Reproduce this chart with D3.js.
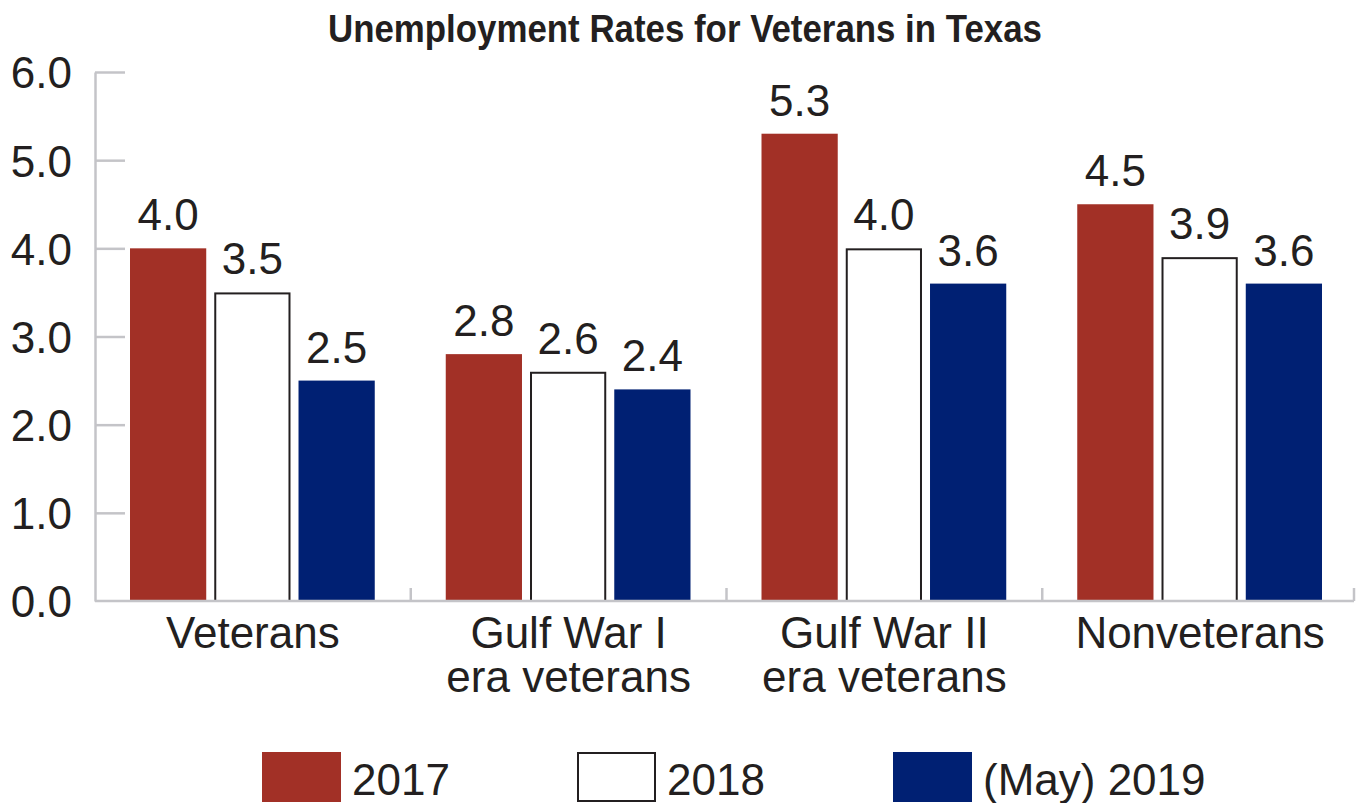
<!DOCTYPE html>
<html>
<head>
<meta charset="utf-8">
<script src="https://cdn.jsdelivr.net/npm/d3@7"></script>
<style>
  body { margin: 0; background: #fff; }
  svg text { font-family: "Liberation Sans", Arial, sans-serif; fill: #231F20; }
</style>
</head>
<body>
<div id="chart"></div>
<script>
const categories = [["Veterans"], ["Gulf War I", "era veterans"], ["Gulf War II", "era veterans"], ["Nonveterans"]];
const seriesNames = ["2017", "2018", "(May) 2019"];
const values2017 = [4.0, 2.8, 5.3, 4.5];
const values2018 = [3.5, 2.6, 4.0, 3.9];
const values2019 = [2.5, 2.4, 3.6, 3.6];
const yTicks = [0, 1, 2, 3, 4, 5, 6];

const colors = { "2017": "#A23026", "2018": "#FFFFFF", "(May) 2019": "#002073" };
const allValues = [values2017, values2018, values2019];

window.onload = () => {
  drawChart();
};

function drawChart() {
  const W = 1361, H = 803;
  const svg = d3.select("#chart").append("svg")
    .attr("width", W)
    .attr("height", H);

  const left = 95, right = 1358, top = 72, bottom = 601;
  const catKeys = categories.map(c => c.join(" "));

  const x0 = d3.scaleBand().domain(catKeys).range([left, right]).padding(0);
  const x1 = d3.scaleBand().domain(seriesNames)
    .range([35, x0.bandwidth() - 36])
    .paddingInner(8 / 84);
  const y = d3.scaleLinear().domain([0, 6]).range([bottom, top]);

  // title
  svg.append("text")
    .attr("x", 685)
    .attr("y", 42)
    .attr("text-anchor", "middle")
    .attr("textLength", 714)
    .attr("lengthAdjust", "spacingAndGlyphs")
    .style("font-family", '"Liberation Sans Narrow", "Liberation Sans", Arial, sans-serif')
    .style("font-weight", "bold")
    .style("font-size", "38px")
    .text("Unemployment Rates for Veterans in Texas");

  // y axis
  const yAxis = svg.append("g")
    .attr("transform", `translate(${left},0)`)
    .call(d3.axisLeft(y).tickValues(yTicks).tickFormat(d3.format(".1f")).tickSize(-30).tickSizeOuter(0).tickPadding(23));
  yAxis.select(".domain").attr("stroke", "#C4C4C8").attr("stroke-width", 2.5);
  yAxis.selectAll(".tick line").attr("stroke", "#C4C4C8").attr("stroke-width", 2.5);
  yAxis.selectAll(".tick text")
    .style("font-family", '"Liberation Sans", Arial, sans-serif')
    .style("font-size", "44px")
    .attr("fill", "#231F20")
    .attr("dy", "0.36em");
  yAxis.selectAll(".tick").filter(d => d === 0).select("line").remove();

  // bars
  const groups = svg.selectAll("g.layer")
    .data(catKeys)
    .join("g")
    .attr("class", "layer")
    .attr("transform", d => `translate(${x0(d)},0)`);

  const barData = (c, ci) => seriesNames.map((s, si) => ({ s: s, v: allValues[si][ci] }));

  groups.selectAll("rect")
    .data((c, ci) => barData(c, ci))
    .join("rect")
    .attr("x", d => x1(d.s) + (d.s === "2018" ? 1 : 0))
    .attr("y", d => y(d.v) + (d.s === "2018" ? 1 : 0))
    .attr("width", d => x1.bandwidth() - (d.s === "2018" ? 2 : 0))
    .attr("height", d => bottom - y(d.v) - (d.s === "2018" ? 1 : 0))
    .attr("fill", d => colors[d.s])
    .attr("stroke", d => d.s === "2018" ? "#231F20" : "none")
    .attr("stroke-width", 2);

  groups.selectAll("text.val")
    .data((c, ci) => barData(c, ci))
    .join("text")
    .attr("class", "val")
    .attr("x", d => x1(d.s) + x1.bandwidth() / 2)
    .attr("y", d => y(d.v) - 18)
    .attr("text-anchor", "middle")
    .style("font-size", "44px")
    .text(d => d.v.toFixed(1));

  // x axis baseline and separators
  svg.append("line")
    .attr("x1", left).attr("x2", right - 4)
    .attr("y1", bottom).attr("y2", bottom)
    .attr("stroke", "#C4C4C8").attr("stroke-width", 2.5);
  svg.selectAll("line.sep")
    .data(catKeys)
    .join("line")
    .attr("class", "sep")
    .attr("x1", (d, i) => x0(d) + x0.bandwidth() - (i === 3 ? 4 : 0))
    .attr("x2", (d, i) => x0(d) + x0.bandwidth() - (i === 3 ? 4 : 0))
    .attr("y1", bottom - 13).attr("y2", bottom)
    .attr("stroke", "#C4C4C8").attr("stroke-width", 2.5);

  // category labels
  const catLabels = svg.selectAll("text.cat")
    .data(categories)
    .join("text")
    .attr("class", "cat")
    .attr("text-anchor", "middle")
    .style("font-size", "44px");
  catLabels.selectAll("tspan")
    .data((d, i) => d.map(line => ({ line: line, key: catKeys[i] })))
    .join("tspan")
    .attr("x", d => x0(d.key) + x0.bandwidth() / 2)
    .attr("y", (d, i) => 648 + i * 44)
    .text(d => d.line);

  // legend
  const legendX = [262, 577, 893];
  const legend = svg.selectAll("g.legend")
    .data(seriesNames)
    .join("g")
    .attr("class", "legend")
    .attr("transform", (d, i) => `translate(${legendX[i]},752)`);
  legend.append("rect")
    .attr("x", d => d === "2018" ? 1 : 0)
    .attr("y", d => d === "2018" ? 1 : 0)
    .attr("width", d => d === "2018" ? 77 : 79)
    .attr("height", d => d === "2018" ? 48 : 50)
    .attr("fill", d => colors[d])
    .attr("stroke", d => d === "2018" ? "#231F20" : "none")
    .attr("stroke-width", 2);
  legend.append("text")
    .attr("x", 90)
    .attr("y", 43)
    .style("font-size", "44px")
    .text(d => d);
}
</script>
</body>
</html>
